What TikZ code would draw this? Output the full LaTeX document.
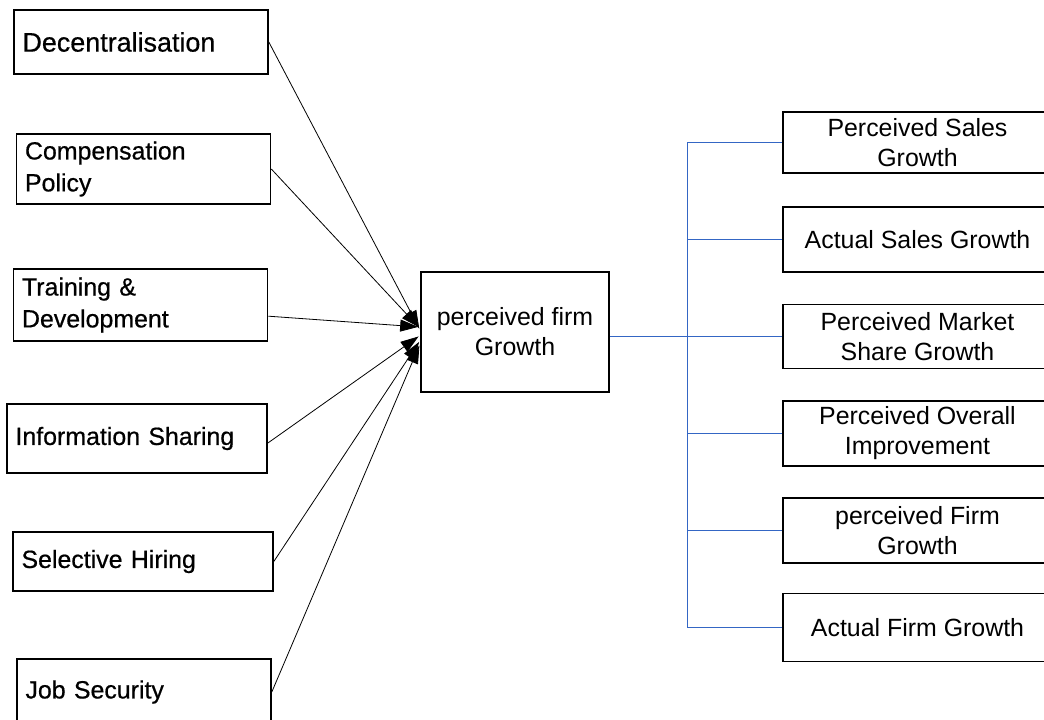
\documentclass[tikz,border=0pt]{standalone}
\usepackage{fontspec}
\usepackage{tikz}
\usetikzlibrary{arrows.meta,calc}
\setmainfont{Liberation Sans}
\newfontfamily\practicefont[FakeBold=0.6]{Liberation Sans}
\definecolor{branchblue}{RGB}{52,102,196}
\tikzset{every scope/.style={>={Triangle[length=18bp,width=12bp]}}}
\tikzstyle{practice_box} =
  [ rectangle
  , draw
  , line width=1.6bp
  , inner xsep=8.5bp
  , text width=237bp
  , align=left
  , font=\practicefont\fontsize{25}{32}\selectfont
  ]
\tikzstyle{growth_box} =
  [ rectangle
  , draw
  , line width=1.6bp
  , minimum width=188bp
  , minimum height=120bp
  , align=center
  , font=\fontsize{25}{30}\selectfont
  ]
\tikzstyle{outcome_box} =
  [ rectangle
  , draw
  , line width=1.6bp
  , inner xsep=0bp
  , minimum width=269bp
  , align=center
  , font=\fontsize{25}{30}\selectfont
  ]
\tikzstyle{practice_line} = [line width=0.8bp, shorten >=2bp]
\tikzstyle{branch_line}   = [line width=1.4bp, draw=branchblue]
\def\Decentralisation{Decentralisation}
\def\Compensation{Compensation\\Policy}
\def\Training{Training \&\\Development}
\def\InfoSharing{Information Sharing}
\def\SelectiveHiring{Selective Hiring}
\def\JobSecurity{Job Security}
\def\FirmGrowth{perceived firm\\Growth}
\def\PerceivedSales{Perceived Sales\\Growth}
\def\ActualSales{Actual Sales Growth}
\def\PerceivedMarket{Perceived Market\\Share Growth}
\def\PerceivedOverall{Perceived Overall\\Improvement}
\def\PerceivedFirm{perceived Firm\\Growth}
\def\ActualFirm{Actual Firm Growth}

\begin{document}
\begin{tikzpicture}[x=1bp,y=-1bp]
    \useasboundingbox (0,0) rectangle (1044,720);
    \clip (0,0) rectangle (1044,720);

    \node[practice_box, minimum height=64bp,
          font=\practicefont\fontsize{27}{32}\selectfont]      (Decentralisation) at (141,   42)    {\Decentralisation};
    \node[practice_box, minimum height=70bp]                   (Compensation)     at (143.5, 169)   {\Compensation};
    \node[practice_box, minimum height=72bp]                   (Training)         at (140.5, 305)   {\Training};
    \node[practice_box, minimum height=69bp, text width=243bp] (InfoSharing)      at (137,   438.5) {\InfoSharing};
    \node[practice_box, minimum height=59bp, text width=243bp] (SelectiveHiring)  at (143,   561.5) {\SelectiveHiring};
    \node[practice_box, minimum height=66bp]                   (JobSecurity)      at (144,   692)   {\JobSecurity};

    \node[growth_box]                                          (FirmGrowth)       at (515,   332)   {\FirmGrowth};

    \node[outcome_box, minimum height=61bp]                    (PerceivedSales)   at (917.5, 142.5) {\PerceivedSales};
    \node[outcome_box, minimum height=65bp]                    (ActualSales)      at (917.5, 239.5) {\ActualSales};
    \node[outcome_box, minimum height=64bp]                    (PerceivedMarket)  at (917.5, 336.5) {\PerceivedMarket};
    \node[outcome_box, minimum height=65bp]                    (PerceivedOverall) at (917.5, 433.5) {\PerceivedOverall};
    \node[outcome_box, minimum height=65bp]                    (PerceivedFirm)    at (917.5, 530.5) {\PerceivedFirm};
    \node[outcome_box, minimum height=68bp]                    (ActualFirm)       at (917.5, 627.5) {\ActualFirm};

    \coordinate (trunk) at (687.5, 336.5);


    \draw[->, practice_line] (Decentralisation.east) -- (FirmGrowth.179);
    \draw[->, practice_line] (Compensation.east)     -- (FirmGrowth.178);
    \draw[->, practice_line] (Training.355)          -- (FirmGrowth.177);
    \draw[->, practice_line] (InfoSharing.358)       -- (FirmGrowth.182);
    \draw[->, practice_line] (SelectiveHiring.east)  -- (FirmGrowth.185);
    \draw[->, practice_line] (JobSecurity.east)      -- (FirmGrowth.187);

    \draw[branch_line] (FirmGrowth.east |- PerceivedMarket.west) -- (PerceivedMarket.west);
    \draw[branch_line] (trunk |- PerceivedSales.west)   -- (trunk |- ActualFirm.west);
    \draw[branch_line] (trunk |- PerceivedSales.west)   -- (PerceivedSales.west);
    \draw[branch_line] (trunk |- ActualSales.west)      -- (ActualSales.west);
    \draw[branch_line] (trunk |- PerceivedOverall.west) -- (PerceivedOverall.west);
    \draw[branch_line] (trunk |- PerceivedFirm.west)    -- (PerceivedFirm.west);
    \draw[branch_line] (trunk |- ActualFirm.west)       -- (ActualFirm.west);
  \end{tikzpicture}
\end{document}
